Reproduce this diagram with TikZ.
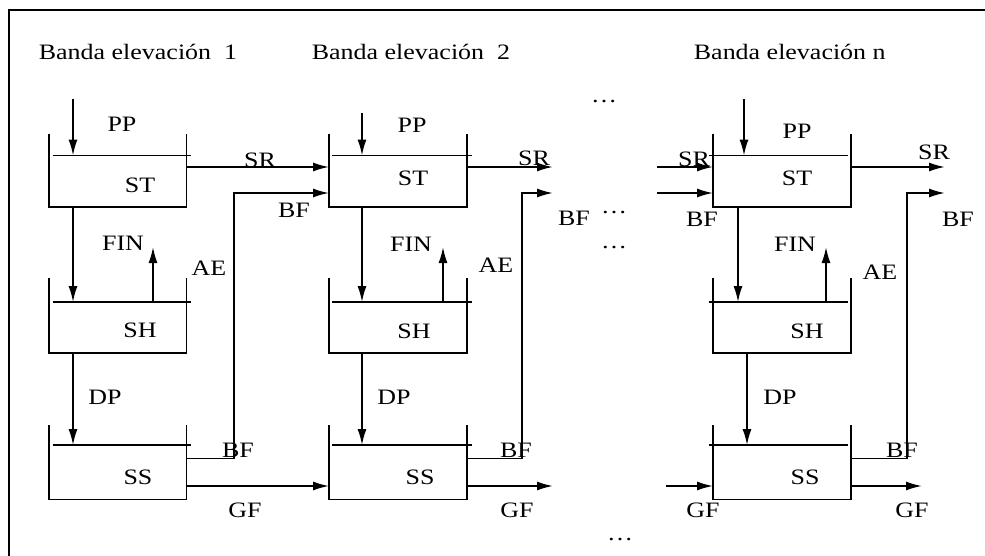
\documentclass[tikz,border=0pt]{standalone}
\usepackage{fontspec}
\setmainfont{Liberation Serif}[FakeStretch=1.18]
\usetikzlibrary{arrows.meta}

\tikzset{
  tank/.style={rectangle,inner sep=0pt,minimum width=136pt},
  lbl/.style={inner sep=0pt,font=\fontsize{22}{24}\selectfont},
}

\begin{document}
\begin{tikzpicture}[x=1pt,y=-1pt,>={Latex[length=16pt,width=9pt]},line width=1.8pt]
\useasboundingbox (0,0) rectangle (985,556);
\draw (9,556) -- (9,10) -- (985,10);

% titles
\node[lbl,anchor=west] (ttl1) at (38,52) {Banda elevación\ \ 1};
\node[lbl,anchor=west] (ttl2) at (311,52) {Banda elevación\ \ 2};
\node[lbl,anchor=west] (ttl3) at (693,52) {Banda elevación n};

% tanks
\node[tank,minimum height=49.5pt] (ST1) at (117.5,181.25) {};
\node[tank,minimum height=49pt]   (SH1) at (117.5,327.5) {};
\node[tank,minimum height=52.5pt] (SS1) at (117.5,472.25) {};
\node[tank,minimum height=49.5pt] (ST2) at (398,181.25) {};
\node[tank,minimum height=49pt]   (SH2) at (398,327.5) {};
\node[tank,minimum height=52.5pt] (SS2) at (398,472.25) {};
\node[tank,minimum height=49.5pt] (ST3) at (782,181.25) {};
\node[tank,minimum height=49pt]   (SH3) at (782,327.5) {};
\node[tank,minimum height=52.5pt] (SS3) at (782,472.25) {};

\foreach \t/\a/\b/\h in {ST1/4/5/22, SH1/4/5/24, SS1/4/5/20,
                         ST2/3/5/22, SH2/3/5/24, SS2/3/5/20,
                         ST3/-4/-3/22, SH3/-4/-3/24, SS3/-4/-3/20}
  \draw ([yshift=\h]\t.north west) -- (\t.south west) -- (\t.south east) -- ([yshift=\h]\t.north east)
        ([xshift=\a]\t.north west) -- ([xshift=\b]\t.north east);

\node[lbl] (tST1) at (140,185) {ST};
\node[lbl] (tSH1) at (140,330) {SH};
\node[lbl] (tSS1) at (138,477) {SS};
\node[lbl] (tST2) at (413,178) {ST};
\node[lbl] (tSH2) at (414,331) {SH};
\node[lbl] (tSS2) at (420,477) {SS};
\node[lbl] (tST3) at (797,178) {ST};
\node[lbl] (tSH3) at (807,331) {SH};
\node[lbl] (tSS3) at (805,477) {SS};

% levels and columns of the flows
\coordinate (sr) at (0,167);
\coordinate (bfst) at (0,193);
\coordinate (bfss) at (0,458.5);
\coordinate (gf) at (0,486);
\coordinate (pp1) at (73,99);
\coordinate (pp2) at (362,113);
\coordinate (pp3) at (744,99);
\coordinate (in3) at (738,0);
\coordinate (dp3) at (747,0);
\coordinate (fin1) at (153,247);
\coordinate (fin2) at (443,247);
\coordinate (fin3) at (826,247);
\coordinate (bf1) at (234,0);
\coordinate (bf2) at (522,0);
\coordinate (bf3) at (907,0);
\coordinate (sr2) at (553,167);
\coordinate (bf2e) at (553,193);
\coordinate (gf2) at (553,486);
\coordinate (sr3i) at (657,167);
\coordinate (bf3i) at (657,193);
\coordinate (gf3i) at (666,486);
\coordinate (sr3) at (945,167);
\coordinate (bf3e) at (945,193);
\coordinate (gf3) at (922,486);

% band 1
\draw[->] (pp1) -- (pp1 |- ST1.north);
\draw[->] (pp1 |- ST1.south) -- (pp1 |- SH1.north);
\draw[->] (pp1 |- SH1.south) -- (pp1 |- SS1.north);
\draw[->] (fin1 |- SH1.north) -- (fin1);
\draw[->] (ST1.east |- sr) -- (ST2.west |- sr);
\draw[->] (SS1.east |- bfss) -| (bf1 |- bfst) -- (ST2.west |- bfst);
\draw[->] (SS1.east |- gf) -- (SS2.west |- gf);

% band 2
\draw[->] (pp2) -- (pp2 |- ST2.north);
\draw[->] (pp2 |- ST2.south) -- (pp2 |- SH2.north);
\draw[->] (pp2 |- SH2.south) -- (pp2 |- SS2.north);
\draw[->] (fin2 |- SH2.north) -- (fin2);
\draw[->] (ST2.east |- sr) -- (sr2);
\draw[->] (SS2.east |- bfss) -| (bf2 |- bfst) -- (bf2e);
\draw[->] (SS2.east |- gf) -- (gf2);

% band n
\draw[->] (sr3i) -- (ST3.west |- sr);
\draw[->] (bf3i) -- (ST3.west |- bfst);
\draw[->] (gf3i) -- (SS3.west |- gf);
\draw[->] (pp3) -- (pp3 |- ST3.north);
\draw[->] (in3 |- ST3.south) -- (in3 |- SH3.north);
\draw[->] (dp3 |- SH3.south) -- (dp3 |- SS3.north);
\draw[->] (fin3 |- SH3.north) -- (fin3);
\draw[->] (ST3.east |- sr) -- (sr3);
\draw[->] (SS3.east |- bfss) -| (bf3 |- bfst) -- (bf3e);
\draw[->] (SS3.east |- gf) -- (gf3);

% flow labels
\node[lbl] (pp1l) at (122,124) {PP};
\node[lbl] (sr1l) at (260,160) {SR};
\node[lbl] (bf1l) at (294,210) {BF};
\node[lbl] (fin1l) at (123,243) {FIN};
\node[lbl] (ae1l) at (209,268) {AE};
\node[lbl] (dp1l) at (105,397) {DP};
\node[lbl] (bf1b) at (238,450) {BF};
\node[lbl] (gf1l) at (245,510) {GF};

\node[lbl] (pp2l) at (412,125) {PP};
\node[lbl] (sr2l) at (534,158) {SR};
\node[lbl] (bf2l) at (574,218) {BF};
\node[lbl] (fin2l) at (411,244) {FIN};
\node[lbl] (ae2l) at (496,265) {AE};
\node[lbl] (dp2l) at (394,397) {DP};
\node[lbl] (bf2b) at (516,450) {BF};
\node[lbl] (gf2l) at (517,510) {GF};

\node[lbl] (pp3l) at (797,131) {PP};
\node[lbl] (sr3il) at (694,159) {SR};
\node[lbl] (bf3il) at (702,219) {BF};
\node[lbl] (sr3l) at (934,152) {SR};
\node[lbl] (bf3l) at (958,219) {BF};
\node[lbl] (fin3l) at (795,244) {FIN};
\node[lbl] (ae3l) at (880,272) {AE};
\node[lbl] (dp3l) at (780,397) {DP};
\node[lbl] (bf3b) at (902,450) {BF};
\node[lbl] (gf3il) at (703,510) {GF};
\node[lbl] (gf3l) at (912,510) {GF};

% gaps between band 2 and band n
\node[lbl] (dots1) at (604,102) {\dots};
\node[lbl] (dots2) at (614,213) {\dots};
\node[lbl] (dots3) at (614,248) {\dots};
\node[lbl] (dots4) at (620,540) {\dots};
\end{tikzpicture}
\end{document}
